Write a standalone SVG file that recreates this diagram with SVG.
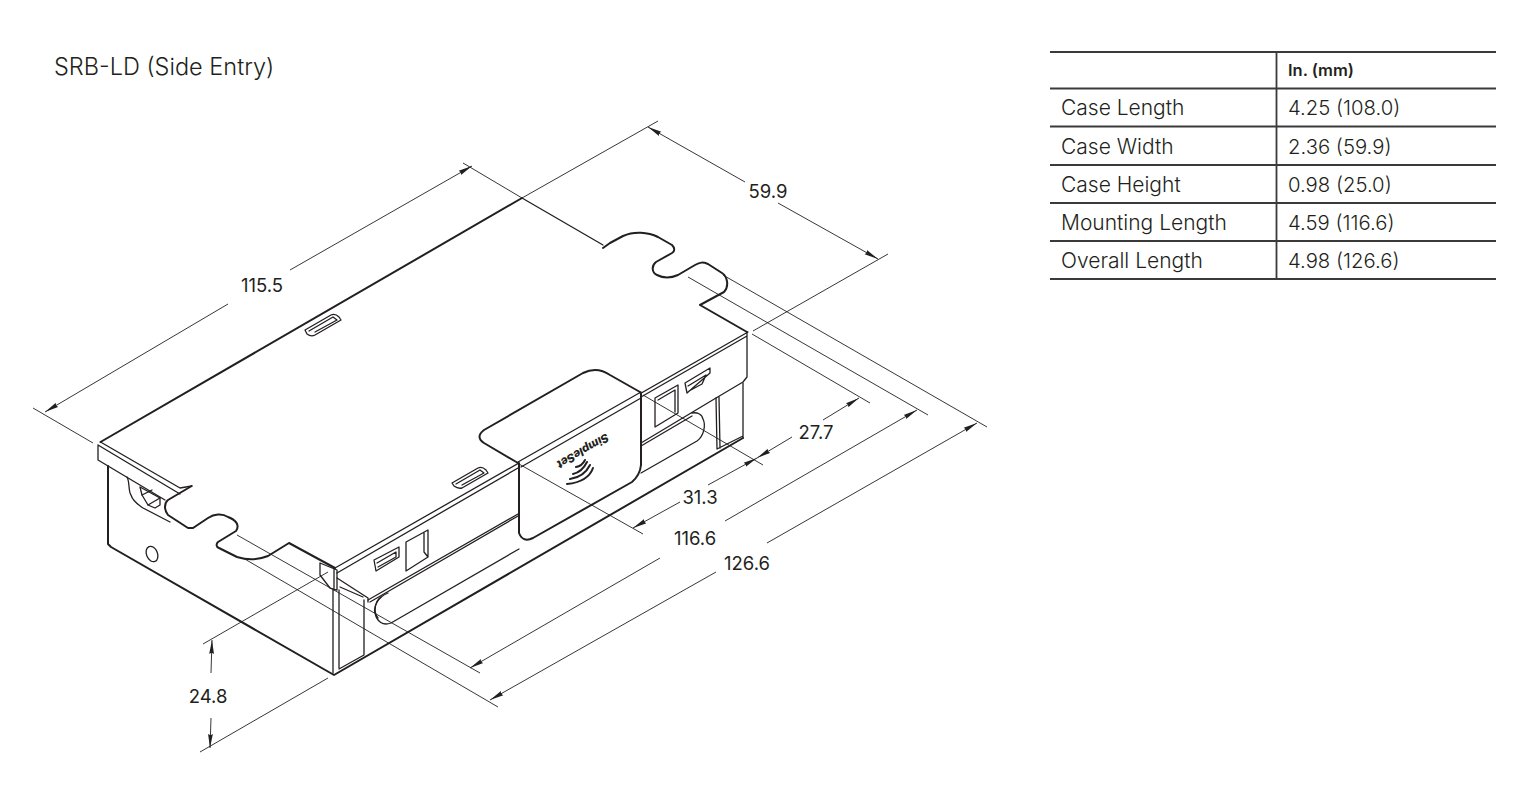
<svg xmlns="http://www.w3.org/2000/svg" width="1534" height="802" viewBox="0 0 1534 802">
<style>
text{font-family:Inter,"Noto Sans","Liberation Sans",sans-serif;fill:#231f20}
.t{font-size:23.500px;font-weight:300}.d{font-size:18.500px;text-anchor:middle}.c{font-size:21px;font-weight:300}.v{font-size:20.300px;font-weight:300}.h{font-size:16.500px;font-weight:600}
.k{fill:none;stroke:#231f20;stroke-width:2;stroke-linejoin:round;stroke-linecap:round}
.m{fill:none;stroke:#231f20;stroke-width:1.3;stroke-linejoin:round;stroke-linecap:round}
.n{fill:none;stroke:#231f20;stroke-width:.9}
.r{stroke:#3a3a3a;stroke-width:1.8;fill:none}
</style>
<defs>
<marker id="a" markerUnits="userSpaceOnUse" viewBox="0 0 14 6" refX="14" refY="3" markerWidth="14" markerHeight="6" orient="auto"><path d="M14,3L0,.6Q2,3 0,5.400Z" fill="#231f20"/></marker>
</defs>
<rect width="1534" height="802" fill="#fff"/>
<text class="t" x="54" y="75">SRB-LD (Side Entry)</text>

<g id="table">
<path class="r" d="M1050,52H1496M1050,88.500H1496M1050,126.500H1496M1050,165H1496M1050,203H1496M1050,241H1496M1050,279H1496M1276.500,52V279"/>
<text class="h" x="1288" y="76">In. (mm)</text>
<text class="c" x="1061" y="115">Case Length</text><text class="v" x="1288" y="115">4.25 (108.0)</text>
<text class="c" x="1061" y="153.500">Case Width</text><text class="v" x="1288" y="153.500">2.36 (59.9)</text>
<text class="c" x="1061" y="192">Case Height</text><text class="v" x="1288" y="192">0.98 (25.0)</text>
<text class="c" x="1061" y="230">Mounting Length</text><text class="v" x="1288" y="230">4.59 (116.6)</text>
<text class="c" x="1061" y="268">Overall Length</text><text class="v" x="1288" y="268">4.98 (126.6)</text>
</g>

<g id="case">
<path class="k" d="M100.500,442L522,198"/>
<path class="m" d="M522,198L603,245"/>
<path class="k" d="M603,248L610,243L623,236C634,231 648,232 658,237L672,245C675,248 675,251 672,253L656,262C651,266 652,273 657,275C663,278 671,278 678,275L695,265C700,262 703,262 708,264L722,273C728,277 729,287 724,292L700,305L747,332"/>
<path class="k" d="M191.700,486L168,500C164,503 164,510 168,515L188,528L193,528L208,518C214,514 222,513 228,517C236,520 240,525 236,531L218,542C216,544 216,547 219,548L237,557C247,560 258,560 268,556L289,543L335,568"/>
<path class="m" d="M100.500,442L180,488L191.700,486M98,445L180,494M98,445V460L165,500"/>
<path class="k" d="M108,466V544L111,547L334,675L743,438"/>
<path class="m" d="M127,477C130,482 128,491 131,495C133,502 139,505 143,508L170,522"/>
<path class="m" d="M140,487L160,498L160,505L155,508L148,505L142,495Z"/>
<path class="m" d="M142,495L152,490M148,505L160,498"/>
<ellipse class="m" cx="152" cy="554" rx="5.500" ry="8" transform="rotate(-22 152 554)"/>
<path class="m" d="M320,563V575L330,588L337,590V570L320,563M334,568V590"/>
<path class="m" d="M333,590V673M339,590V668M337,578L368,598L368,602M364,600V655L339,669M340,587L363,597"/>
<path class="m" d="M335,568L748,332M337,573L518,468M641,397L747,336M747,332V377L743,382L716,398M368,600L518,514M370,602L518,516M641,443L716,398M641,446L692,416"/>
<path class="m" d="M388,593C378,597 373,607 375,613C377,622 383,626 391,623L519,549"/>
<path class="m" d="M381,597C375,601 373,612 378,618"/>
<path class="m" d="M641,473L697,441C704,436 706,425 703,419C702,414 697,412 692,413"/>
<path class="m" d="M716,398L717,449M719,397L720,448M743,383V438M717,449L743,436"/>
<path class="m" d="M406,542L428,530V557L406,571ZM424,533V552L428,557"/>
<path class="m" d="M374,560L399,547V557L376,571ZM377,563L396,552L396,557L378,567"/>
<path class="m" d="M655,398L678,385V413L655,427ZM658,400L675,390V412"/>
<path class="m" d="M685,383L710,368V373L687,393ZM688,386L706,375L702,384L689,391"/>
<path class="m" d="M452,483L478,468Q482,466 486,470L488,473L462,488Q458,489 454,486ZM456,484L480,470L484,473L462,485"/>
<path class="m" d="M305,330L331,315Q335,313 339,317L341,320L315,335Q311,337 307,334ZM309,331L333,317L337,320L315,332"/>
</g>

<g id="flap">
<path fill="#fff" stroke="none" d="M518,462L483,443Q477,437 483,430L583,373Q597,366 610,375L640,392V465Q640,475 632,482L533,538Q523,543 519,533Z"/>
<path class="k" d="M518,463L484,443Q475,437 484,430L583,373Q597,366 610,375L640,392L641,394V465Q640,475 632,482L533,538Q523,543 519,533V463"/>
<path class="m" d="M518,462L641,392M521,467L641,398"/>
<text x="0" y="0" transform="translate(606,433) rotate(150)" font-size="11.500" font-weight="800" font-style="italic">SimpleSet</text>
<path class="k" d="M593,468Q588,482 567,484"/>
<path class="k" d="M590,465Q584,477 570,479"/>
<path class="k" d="M587,462Q582,472 573,474"/>
<path class="k" d="M585,460Q582,466 576,467"/>
</g>

<g id="connectors">
<path class="n" d="M33,408L93,443M463,163L522,198"/>
<path class="n" marker-end="url(#a)" d="M228,304L45,412"/>
<path class="n" marker-end="url(#a)" d="M290,270L472,166"/>
<path class="n" d="M522,198L658,121M753,331L888,254"/>
<path class="n" marker-end="url(#a)" d="M745,182L648,127"/>
<path class="n" marker-end="url(#a)" d="M778,203L878,259"/>
<path class="n" d="M752,334L870,403M643,395L763,465"/>
<path class="n" marker-end="url(#a)" d="M792,437L757,458"/>
<path class="n" marker-end="url(#a)" d="M823,420L859,398"/>
<path class="n" d="M519,464L643,534"/>
<path class="n" marker-end="url(#a)" d="M680,502L633,528"/>
<path class="n" marker-end="url(#a)" d="M708,485L757,458"/>
<path class="n" d="M688,277L928,415M237,535L480,673"/>
<path class="n" marker-end="url(#a)" d="M660,558L470,668"/>
<path class="n" marker-end="url(#a)" d="M725,521L917,410"/>
<path class="n" d="M723,275L987,427M243,558L498,707"/>
<path class="n" marker-end="url(#a)" d="M716,572L490,700"/>
<path class="n" marker-end="url(#a)" d="M767,543L977,423"/>
<path class="n" d="M328,572L203,644M328,678L200,752"/>
<path class="n" marker-end="url(#a)" d="M211,673L212,640"/>
<path class="n" marker-end="url(#a)" d="M211,718L210,748"/>
</g>

<g id="labels">
<text class="d" x="262" y="292">115.5</text>
<text class="d" x="768" y="198">59.9</text>
<text class="d" x="816" y="439">27.7</text>
<text class="d" x="700" y="504">31.3</text>
<text class="d" x="695" y="545">116.6</text>
<text class="d" x="747" y="570">126.6</text>
<text class="d" x="208" y="703">24.8</text>
</g>
</svg>
